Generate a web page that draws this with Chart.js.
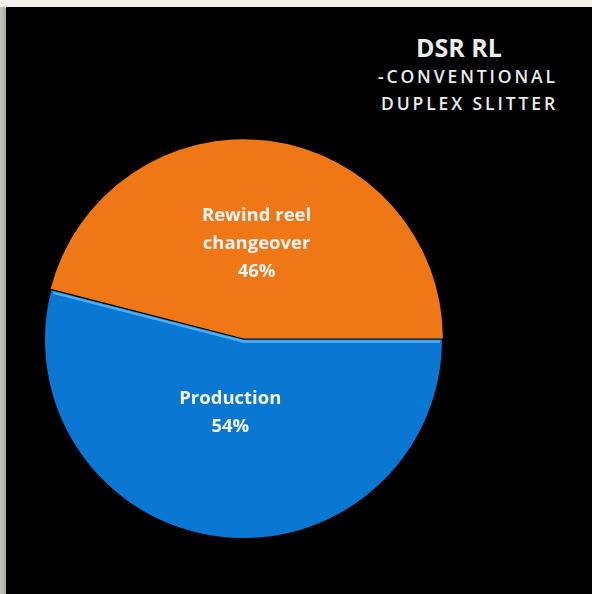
<!DOCTYPE html>
<html lang="en">
<head>
  <meta charset="UTF-8">
  <title>DSR RL - Conventional Duplex Slitter</title>
  <script src="https://cdn.jsdelivr.net/npm/chart.js"></script>
  <style>
    html, body { margin: 0; padding: 0; }
    body {
      width: 592px; height: 594px; overflow: hidden; position: relative;
      background: #f3f0e9;
      font-family: "Open Sans", Lato, sans-serif;
    }
    .side { position: absolute; left: 0; top: 7px; width: 6px; bottom: 0;
      background: linear-gradient(to right, #c9c7c1, #a9a7a2); }
    .panel { position: absolute; left: 6px; top: 7px; right: 0; bottom: 0; background: #000; }
    .title { position: absolute; right: 34px; top: 31px; text-align: right; color: #ececec; }
    .title .main { font-weight: 700; font-size: 25px; margin-right: 56px; line-height: 32px; }
    .title .sub { font-size: 17.5px; letter-spacing: 2.9px; line-height: 27px; font-weight: 600; }
    .chart-box { position: absolute; left: 43px; top: 139px; width: 401px; height: 401px; }
  </style>
</head>
<body>
  <div class="side"></div>
  <div class="panel"></div>
  <div class="title">
    <div class="main">DSR RL</div>
    <div class="sub">-CONVENTIONAL</div>
    <div class="sub">DUPLEX SLITTER</div>
  </div>
  <div class="chart-box">
    <canvas id="pieChart"></canvas>
  </div>
  <script>
    const categories = ['Production', 'Rewind reel changeover'];
    const shares = [54, 46];
    // label lines drawn inside each slice
    const labelLines = [['Production'], ['Rewind reel', 'changeover']];
    const sliceColors = ['#0a78d2', '#f07716'];

    // slice names + percentages, placed along each slice's middle angle
    const sliceLabels = {
      id: 'sliceLabels',
      afterDatasetsDraw(chart) {
        const ctx = chart.ctx;
        const arcs = chart.getDatasetMeta(0).data;
        const spots = [{ r: 0.37, dx: -4 }, { r: 0.485, dx: 1 }];
        ctx.save();
        ctx.fillStyle = '#f4f4f4';
        ctx.font = 'bold 18.5px "Open Sans", Lato, sans-serif';
        ctx.textAlign = 'center';
        ctx.textBaseline = 'middle';
        arcs.forEach((arc, i) => {
          const p = arc.getProps(['x', 'y', 'startAngle', 'endAngle', 'outerRadius']);
          const mid = (p.startAngle + p.endAngle) / 2;
          const cx = p.x + Math.cos(mid) * p.outerRadius * spots[i].r + spots[i].dx;
          const cy = p.y + Math.sin(mid) * p.outerRadius * spots[i].r;
          const lines = labelLines[i].concat([shares[i] + '%']);
          const top = cy - (lines.length - 1) * 14;
          lines.forEach((t, k) => ctx.fillText(t, cx, top + k * 28));
        });
        ctx.restore();
      }
    };

    // light bevel along the straight edges of the production slice
    const bevel = {
      id: 'bevel',
      afterDatasetsDraw(chart) {
        const ctx = chart.ctx;
        const arc = chart.getDatasetMeta(0).data[0];
        const p = arc.getProps(['x', 'y', 'startAngle', 'endAngle', 'outerRadius']);
        const r = p.outerRadius - 2;
        ctx.save();
        ctx.strokeStyle = '#4fb0f5';
        ctx.lineWidth = 2.5;
        ctx.beginPath();
        ctx.moveTo(p.x + Math.cos(p.endAngle) * r, p.y + Math.sin(p.endAngle) * r + 2);
        ctx.lineTo(p.x, p.y + 2);
        ctx.lineTo(p.x + Math.cos(p.startAngle) * r, p.y + 2);
        ctx.stroke();
        ctx.restore();
      }
    };

    new Chart(document.getElementById('pieChart'), {
      type: 'pie',
      data: {
        labels: categories,
        datasets: [{
          data: shares,
          backgroundColor: sliceColors,
          borderColor: '#000',
          borderWidth: [0, 0],
          offset: [0, 4]
        }]
      },
      options: {
        responsive: true,
        maintainAspectRatio: false,
        animation: false,
        rotation: 90,
        layout: { padding: 0 },
        plugins: { legend: { display: false }, tooltip: { enabled: false } }
      },
      plugins: [bevel, sliceLabels]
    });
  </script>
</body>
</html>
